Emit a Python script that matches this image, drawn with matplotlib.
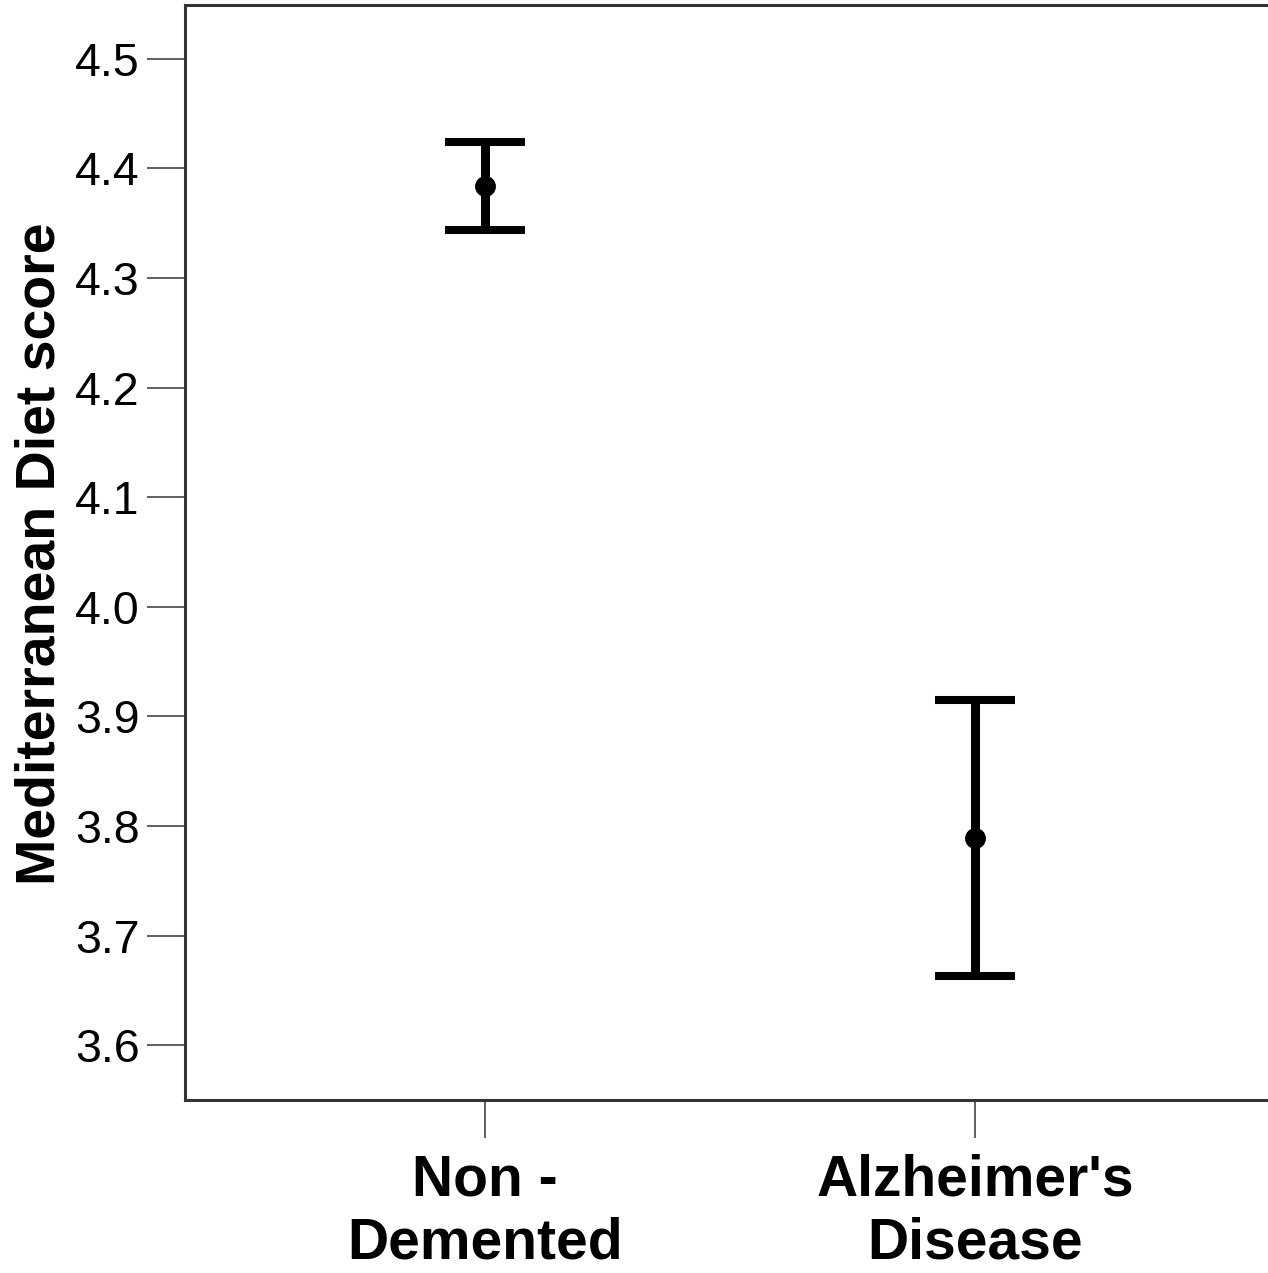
import matplotlib
matplotlib.use("Agg")
import matplotlib.pyplot as plt

plt.rcParams["font.family"] = ["Liberation Sans", "DejaVu Sans"]

# data
groups = ["Non -\nDemented", "Alzheimer's\nDisease"]
means = [4.384, 3.789]
upper = [4.424, 3.915]
lower = [4.344, 3.663]
yticks = [3.6, 3.7, 3.8, 3.9, 4.0, 4.1, 4.2, 4.3, 4.4, 4.5]

W, H = 1268, 1273
fig = plt.figure(figsize=(W / 100, H / 100), dpi=100)
ax = fig.add_axes([185 / W, 1 - 1100 / H, 1090 / W, 1095 / H])

xpos = [1, 2]
err = [[m - lo for m, lo in zip(means, lower)], [up - m for m, up in zip(means, upper)]]
ax.errorbar(xpos, means, yerr=err, fmt="o", color="black", ecolor="black",
            elinewidth=6.5, capsize=28.8, capthick=5.8, markersize=14)

ax.set_xlim(1 - 300 / 490, 2 + 300 / 490)
ax.set_ylim(3.55, 4.549)
ax.set_yticks(yticks)
ax.set_yticklabels([f"{t:.1f}" for t in yticks], fontsize=33.5)
ax.set_xticks(xpos)
ax.set_xticklabels(groups, fontsize=41, fontweight="bold", linespacing=1.22)

ax.tick_params(axis="both", direction="out", length=27.5, width=1.2, color="#444444")
ax.tick_params(axis="y", pad=5)
ax.tick_params(axis="x", pad=11)

for s in ax.spines.values():
    s.set_linewidth(2.2)
    s.set_color("#333333")

ax.set_ylabel("Mediterranean Diet score", fontsize=40, fontweight="bold")
ax.yaxis.set_label_coords(-0.109, 0.499)

fig.savefig("out.png", dpi=100)
